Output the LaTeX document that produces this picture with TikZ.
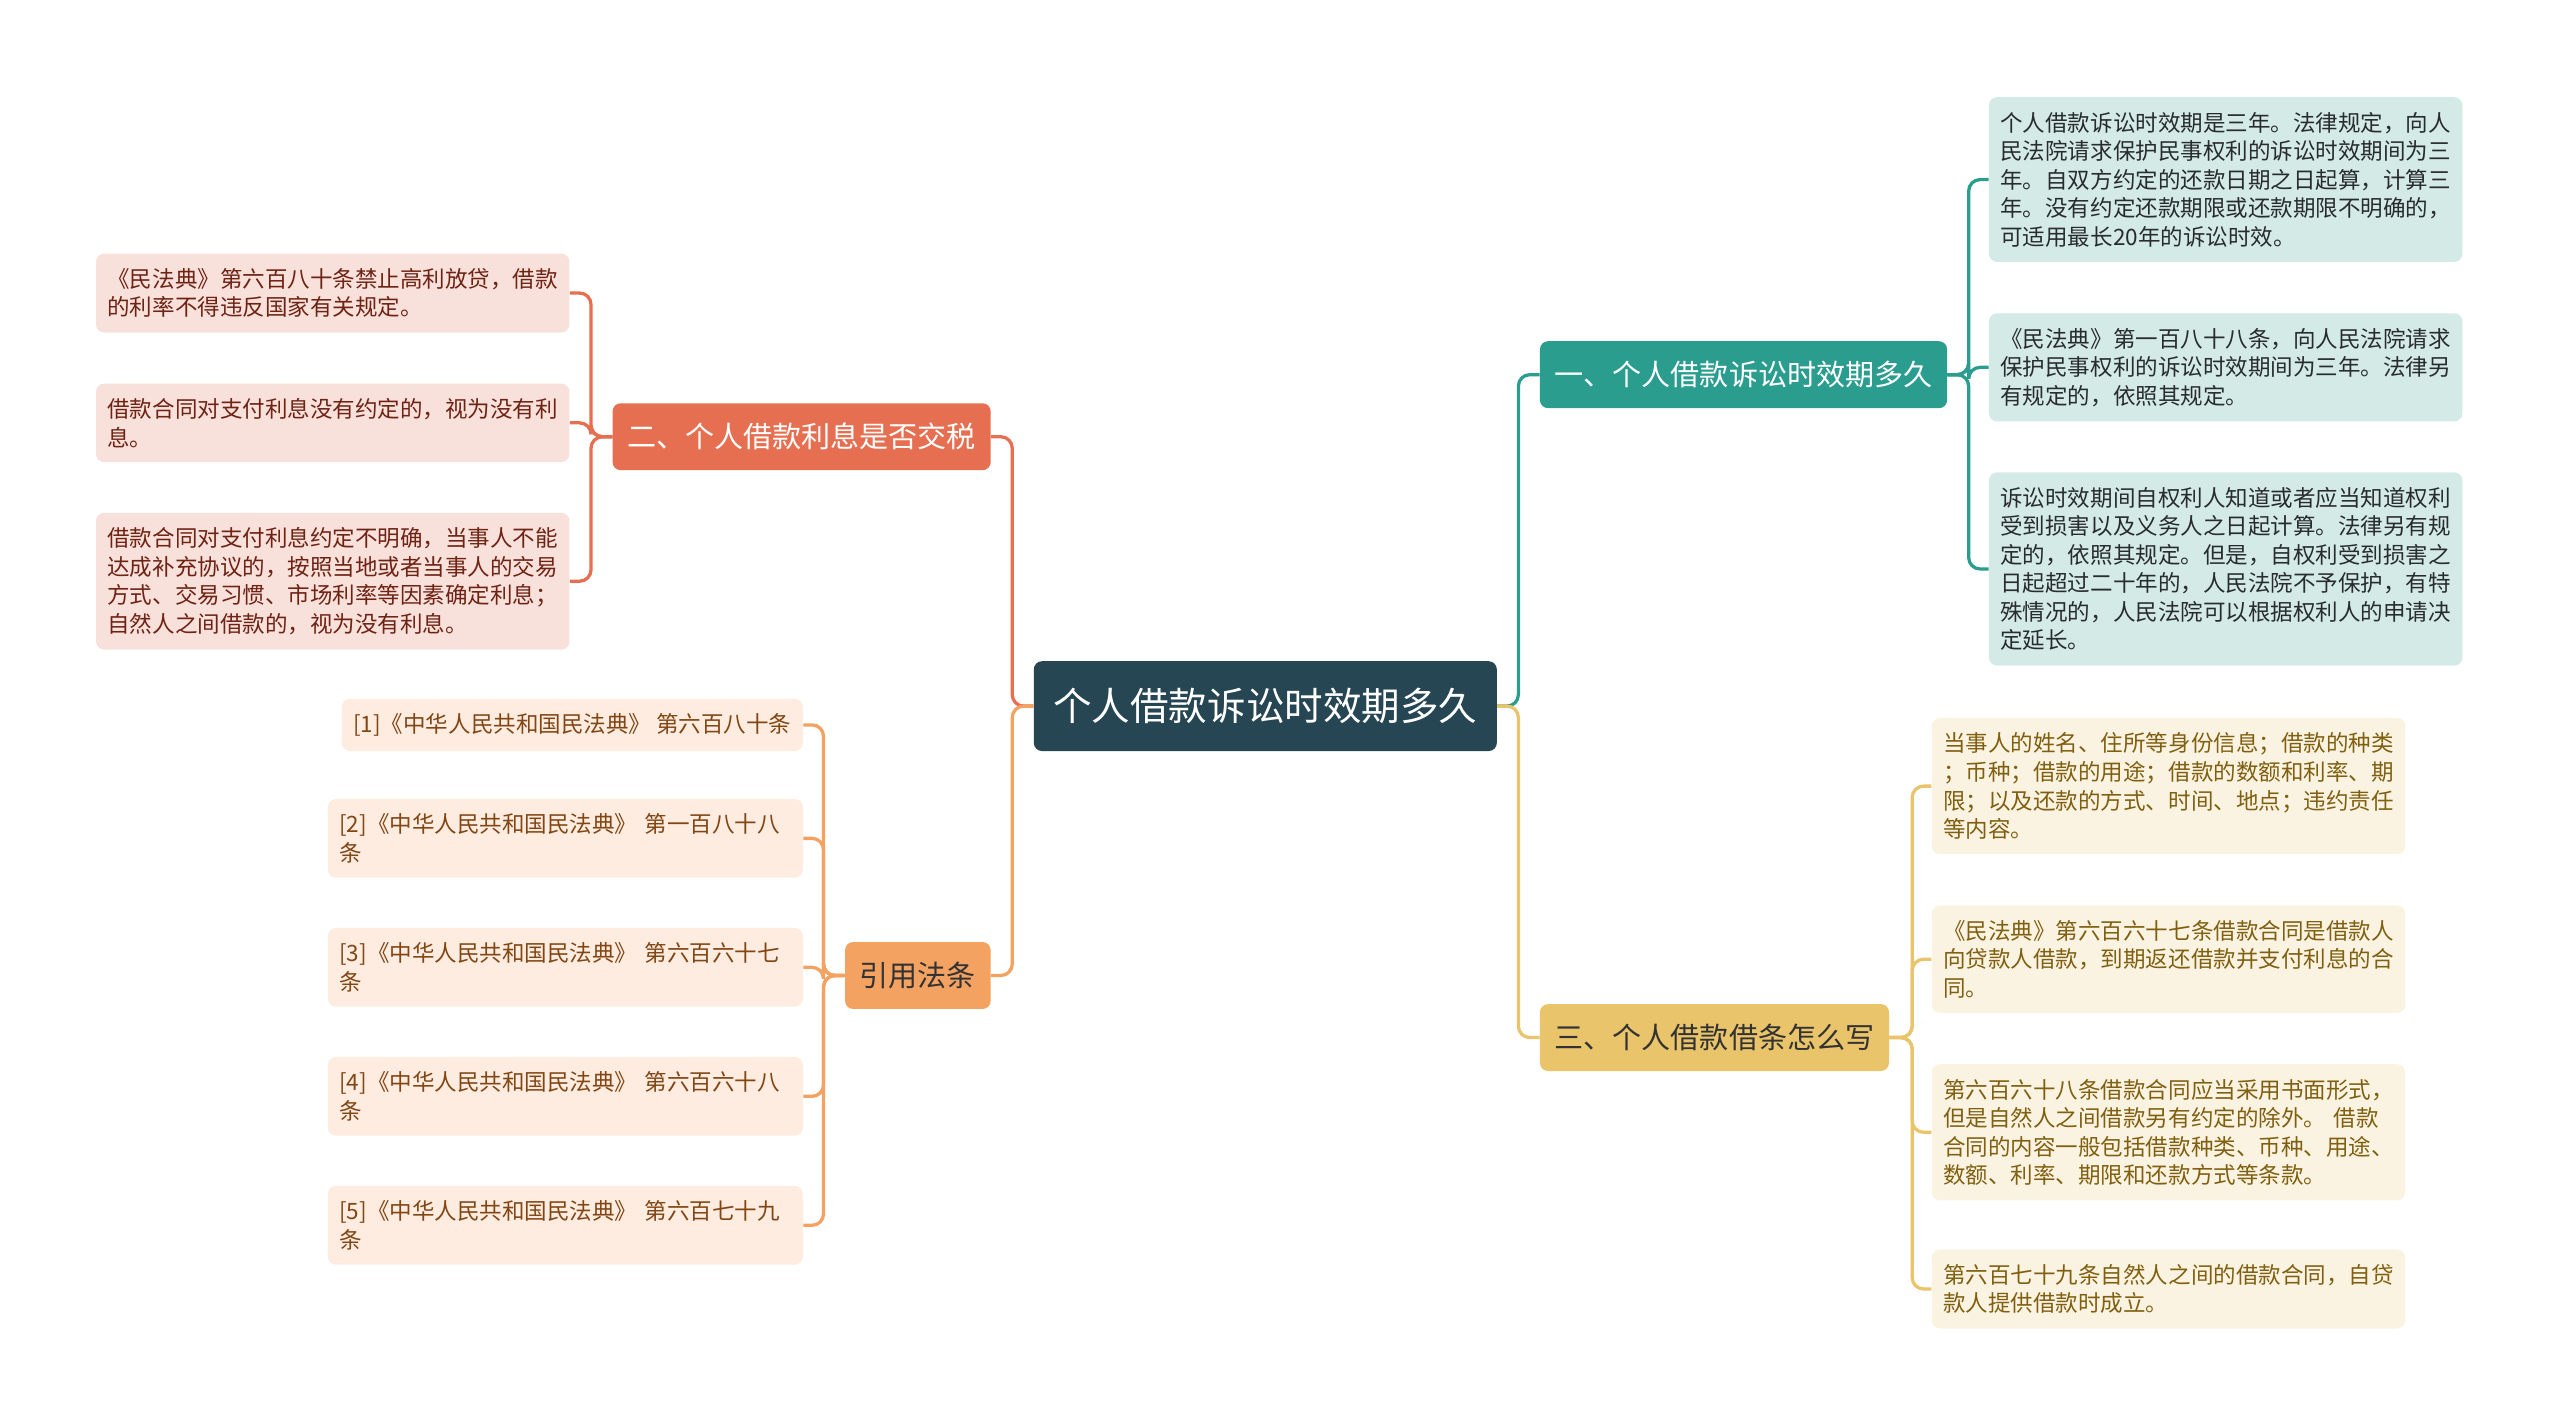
\documentclass[tikz,border=0pt]{standalone}
\usepackage{fontspec}
\setmainfont{Noto Sans CJK SC}
\usepackage{xcolor}
\usepackage{tikz}
\definecolor{cRoot}{RGB}{38,70,83}
\definecolor{cTeal}{RGB}{42,157,143}
\definecolor{cYellow}{RGB}{233,196,106}
\definecolor{cOrange}{RGB}{244,162,97}
\definecolor{cRed}{RGB}{231,111,81}
\definecolor{cTealBg}{RGB}{212,234,231}
\definecolor{cYellowBg}{RGB}{251,243,226}
\definecolor{cOrangeBg}{RGB}{253,236,223}
\definecolor{cRedBg}{RGB}{249,225,219}
\definecolor{cTealTx}{RGB}{40,44,44}
\definecolor{cYellowTx}{RGB}{128,96,16}
\definecolor{cOrangeTx}{RGB}{130,70,20}
\definecolor{cRedTx}{RGB}{110,35,20}
\tikzset{
	rootnode/.style={rectangle, rounded corners=5pt, fill=cRoot, text=white, inner xsep=12pt, minimum height=55pt, font=\fontsize{23.6}{28}\selectfont},
	branch/.style  ={rectangle, rounded corners=5pt, inner xsep=9pt, minimum height=41pt, font=\fontsize{17.8}{21}\selectfont},
	leaf/.style    ={rectangle, rounded corners=5pt, text width=276pt, align=left, inner xsep=7pt, inner ysep=9pt, font=\fontsize{13.8}{17.5}\selectfont},
	link/.style    ={line width=2pt, rounded corners=7pt},
}
\begin{document}
\begin{tikzpicture}[x=1pt, y=-1pt]
	\useasboundingbox (0,0) rectangle (1568,874);
	\node[rootnode] (root) at (775,432.5) {个人借款诉讼时效期多久};
	% main branches
	\node[branch, anchor=west, fill=cTeal, text=white] (b1) at (943,229.5) {一、个人借款诉讼时效期多久};
	\node[branch, anchor=west, fill=cYellow, text=black!80] (b3) at (943,635.5) {三、个人借款借条怎么写};
	\node[branch, anchor=east, fill=cRed, text=white] (b2) at (607,267.5) {二、个人借款利息是否交税};
	\node[branch, anchor=east, fill=cOrange, text=black!80] (b4) at (607,597.5) {引用法条};
	% teal leaves
	\node[leaf, anchor=west, fill=cTealBg, text=cTealTx] (l1) at (1218,110) {个人借款诉讼时效期是三年。法律规定，向人\\民法院请求保护民事权利的诉讼时效期间为三\\年。自双方约定的还款日期之日起算，计算三\\年。没有约定还款期限或还款期限不明确的，\\可适用最长20年的诉讼时效。};
	\node[leaf, anchor=west, fill=cTealBg, text=cTealTx] (l2) at (1218,225) {《民法典》第一百八十八条，向人民法院请求\\保护民事权利的诉讼时效期间为三年。法律另\\有规定的，依照其规定。};
	\node[leaf, anchor=west, fill=cTealBg, text=cTealTx] (l3) at (1218,348.5) {诉讼时效期间自权利人知道或者应当知道权利\\受到损害以及义务人之日起计算。法律另有规\\定的，依照其规定。但是，自权利受到损害之\\日起超过二十年的，人民法院不予保护，有特\\殊情况的，人民法院可以根据权利人的申请决\\定延长。};
	% yellow leaves
	\node[leaf, anchor=west, fill=cYellowBg, text=cYellowTx] (y1) at (1183,481.5) {当事人的姓名、住所等身份信息；借款的种类\\；币种；借款的用途；借款的数额和利率、期\\限；以及还款的方式、时间、地点；违约责任\\等内容。};
	\node[leaf, anchor=west, fill=cYellowBg, text=cYellowTx] (y2) at (1183,587.5) {《民法典》第六百六十七条借款合同是借款人\\向贷款人借款，到期返还借款并支付利息的合\\同。};
	\node[leaf, anchor=west, fill=cYellowBg, text=cYellowTx] (y3) at (1183,693.5) {第六百六十八条借款合同应当采用书面形式，\\但是自然人之间借款另有约定的除外。 借款\\合同的内容一般包括借款种类、币种、用途、\\数额、利率、期限和还款方式等条款。};
	\node[leaf, anchor=west, fill=cYellowBg, text=cYellowTx] (y4) at (1183,789.5) {第六百七十九条自然人之间的借款合同，自贷\\款人提供借款时成立。};
	% red leaves
	\node[leaf, anchor=east, fill=cRedBg, text=cRedTx] (r1) at (349,179.5) {《民法典》第六百八十条禁止高利放贷，借款\\的利率不得违反国家有关规定。};
	\node[leaf, anchor=east, fill=cRedBg, text=cRedTx] (r2) at (349,259) {借款合同对支付利息没有约定的，视为没有利\\息。};
	\node[leaf, anchor=east, fill=cRedBg, text=cRedTx] (r3) at (349,356) {借款合同对支付利息约定不明确，当事人不能\\达成补充协议的，按照当地或者当事人的交易\\方式、交易习惯、市场利率等因素确定利息；\\自然人之间借款的，视为没有利息。};
	% orange leaves
	\node[leaf, anchor=east, fill=cOrangeBg, text=cOrangeTx, text width=, align=center] (o1) at (492,444) {[1]《中华人民共和国民法典》 第六百八十条};
	\node[leaf, anchor=east, fill=cOrangeBg, text=cOrangeTx, text width=277pt] (o2) at (492,513.5) {[2]《中华人民共和国民法典》 第一百八十八\\条};
	\node[leaf, anchor=east, fill=cOrangeBg, text=cOrangeTx, text width=277pt] (o3) at (492,592.5) {[3]《中华人民共和国民法典》 第六百六十七\\条};
	\node[leaf, anchor=east, fill=cOrangeBg, text=cOrangeTx, text width=277pt] (o4) at (492,671.5) {[4]《中华人民共和国民法典》 第六百六十八\\条};
	\node[leaf, anchor=east, fill=cOrangeBg, text=cOrangeTx, text width=277pt] (o5) at (492,750.5) {[5]《中华人民共和国民法典》 第六百七十九\\条};
	% connectors
	\draw[link, cTeal] (root.east) -- ++(13,0) |- (b1.west);
	\draw[link, cYellow] (root.east) -- ++(13,0) |- (b3.west);
	\draw[link, cRed] (root.west) -- ++(-13,0) |- (b2.east);
	\draw[link, cOrange] (root.west) -- ++(-13,0) |- (b4.east);
	\draw[link, cTeal] (b1.east) -- ++(13,0) |- (l1.west);
	\draw[link, cTeal] (b1.east) -- ++(13,0) |- (l2.west);
	\draw[link, cTeal] (b1.east) -- ++(13,0) |- (l3.west);
	\draw[link, cYellow] (b3.east) -- ++(14,0) |- (y1.west);
	\draw[link, cYellow] (b3.east) -- ++(14,0) |- (y2.west);
	\draw[link, cYellow] (b3.east) -- ++(14,0) |- (y3.west);
	\draw[link, cYellow] (b3.east) -- ++(14,0) |- (y4.west);
	\draw[link, cRed] (b2.west) -- ++(-13,0) |- (r1.east);
	\draw[link, cRed] (b2.west) -- ++(-13,0) |- (r2.east);
	\draw[link, cRed] (b2.west) -- ++(-13,0) |- (r3.east);
	\draw[link, cOrange] (b4.west) -- ++(-13,0) |- (o1.east);
	\draw[link, cOrange] (b4.west) -- ++(-13,0) |- (o2.east);
	\draw[link, cOrange] (b4.west) -- ++(-13,0) |- (o3.east);
	\draw[link, cOrange] (b4.west) -- ++(-13,0) |- (o4.east);
	\draw[link, cOrange] (b4.west) -- ++(-13,0) |- (o5.east);
\end{tikzpicture}
\end{document}
